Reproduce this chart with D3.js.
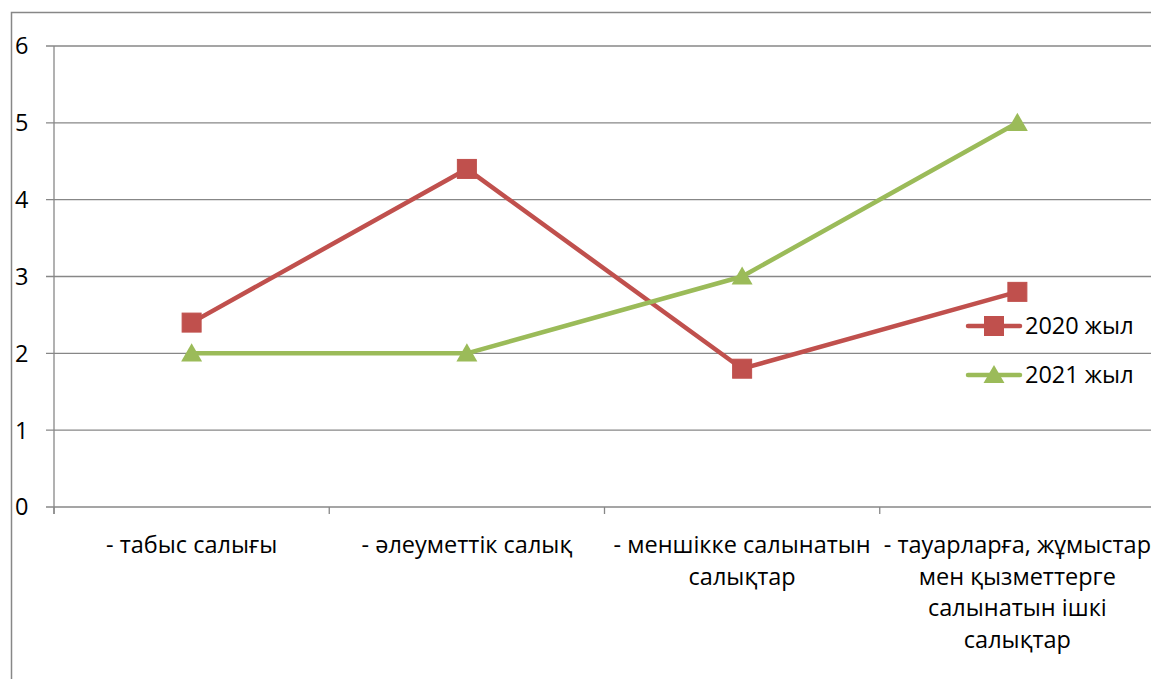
<!DOCTYPE html>
<html><head><meta charset="utf-8">
<script src="https://cdn.jsdelivr.net/npm/d3@7"></script>
<style>body{margin:0;background:#fff;}svg{display:block;font-family:"Open Sans","Liberation Sans",Arial,sans-serif;}</style>
</head><body>
<svg id="c" width="1151" height="679"></svg>
<script>
const categories = ["- табыс салығы", "- әлеуметтік салық", "- меншікке салынатын салықтар", "- тауарларға, жұмыстар мен қызметтерге салынатын ішкі салықтар"];
const series2020 = [2.4, 4.4, 1.8, 2.8];
const series2021 = [2, 2, 3, 5];
const seriesNames = ["2020 жыл", "2021 жыл"];
const yTicks = [0, 1, 2, 3, 4, 5, 6];

const svg = d3.select("#c");
const W = 1151, H = 679;
const m = {left: 54, top: 46, right: 1155, bottom: 507};
const grey = "#878787";
const red = "#C0504D", green = "#9BBB59";
const FS = 23.5;

// outer chart border
svg.append("rect").attr("x", 11.5).attr("y", 12.5).attr("width", 1200).attr("height", 700)
  .attr("fill", "none").attr("stroke", grey).attr("stroke-width", 1.5);

const x = d3.scaleBand().domain(categories).range([m.left, m.right]);
const y = d3.scaleLinear().domain([0, 6]).range([m.bottom, m.top]);

// gridlines
svg.append("g").selectAll("line").data(yTicks).join("line")
  .attr("x1", m.left - 8).attr("x2", W).attr("y1", d => y(d)).attr("y2", d => y(d))
  .attr("stroke", grey).attr("stroke-width", 1.3);

// y axis line
svg.append("line").attr("x1", m.left).attr("x2", m.left).attr("y1", m.top).attr("y2", m.bottom + 7)
  .attr("stroke", grey).attr("stroke-width", 1.3);

// x ticks
const xt = d3.range(categories.length + 1).map(i => m.left + i * x.bandwidth());
svg.append("g").selectAll("line").data(xt).join("line")
  .attr("x1", d => d).attr("x2", d => d).attr("y1", m.bottom).attr("y2", m.bottom + 7)
  .attr("stroke", grey).attr("stroke-width", 1.3);

// y labels
svg.append("g").selectAll("text").data(yTicks).join("text")
  .attr("x", 28.5).attr("y", d => y(d)).attr("dy", "0.36em").attr("text-anchor", "end")
  .attr("font-size", FS).attr("fill", "#000").text(d => d);

// x labels with wrapping
const cx = d => x(d) + x.bandwidth() / 2;
svg.append("g").selectAll("text").data(categories).join("text")
  .attr("x", cx).attr("y", 553).attr("text-anchor", "middle").attr("font-size", FS).attr("fill", "#000")
  .each(function(d) {
    const t = d3.select(this);
    const words = d.split(" ");
    let lines = [], cur = [];
    const tmp = t.append("tspan");
    words.forEach(w => {
      const test = cur.concat([w]).join(" ");
      tmp.text(test);
      if (tmp.node().getComputedTextLength() > 276 && cur.length) { lines.push(cur.join(" ")); cur = [w]; }
      else cur.push(w);
    });
    lines.push(cur.join(" "));
    tmp.remove();
    lines.forEach((l, i) => t.append("tspan").attr("x", cx(d)).attr("dy", i ? 31.5 : 0).text(l));
  });

const line = d3.line().x((d, i) => cx(categories[i])).y(d => y(d));
const tri = d3.symbol().type(d3.symbolTriangle).size(190);

function drawSeries(data, color, marker) {
  svg.append("path").datum(data).attr("d", line).attr("fill", "none").attr("stroke", color)
    .attr("stroke-width", 4.5).attr("stroke-linejoin", "round").attr("stroke-linecap", "round");
  const g = svg.append("g").selectAll("g").data(data).join("g")
    .attr("transform", (d, i) => `translate(${cx(categories[i])},${y(d)})`);
  marker(g, color);
}
const sq = (g, c) => g.append("rect").attr("x", -9.5).attr("y", -9.5).attr("width", 19).attr("height", 19)
  .attr("fill", c).attr("stroke", c).attr("stroke-width", 1);
const tr = (g, c) => g.append("path").attr("d", tri).attr("transform", "translate(0,2)").attr("fill", c);

drawSeries(series2020, red, sq);
drawSeries(series2021, green, tr);

// legend
const legY = [326, 375];
const leg = svg.append("g").selectAll("g").data(seriesNames).join("g")
  .attr("transform", (d, i) => `translate(0,${legY[i]})`);
leg.append("line").attr("x1", 968).attr("x2", 1020).attr("y1", 0).attr("y2", 0)
  .attr("stroke", (d, i) => i ? green : red).attr("stroke-width", 4.5).attr("stroke-linecap", "round");
leg.each(function(d, i) {
  const g = d3.select(this).append("g").attr("transform", "translate(994,0)");
  (i ? tr : sq)(g, i ? green : red);
});
leg.append("text").attr("x", 1025).attr("y", 0).attr("dy", "0.36em").attr("font-size", FS).attr("fill", "#000").text(d => d);
</script>
</body></html>
